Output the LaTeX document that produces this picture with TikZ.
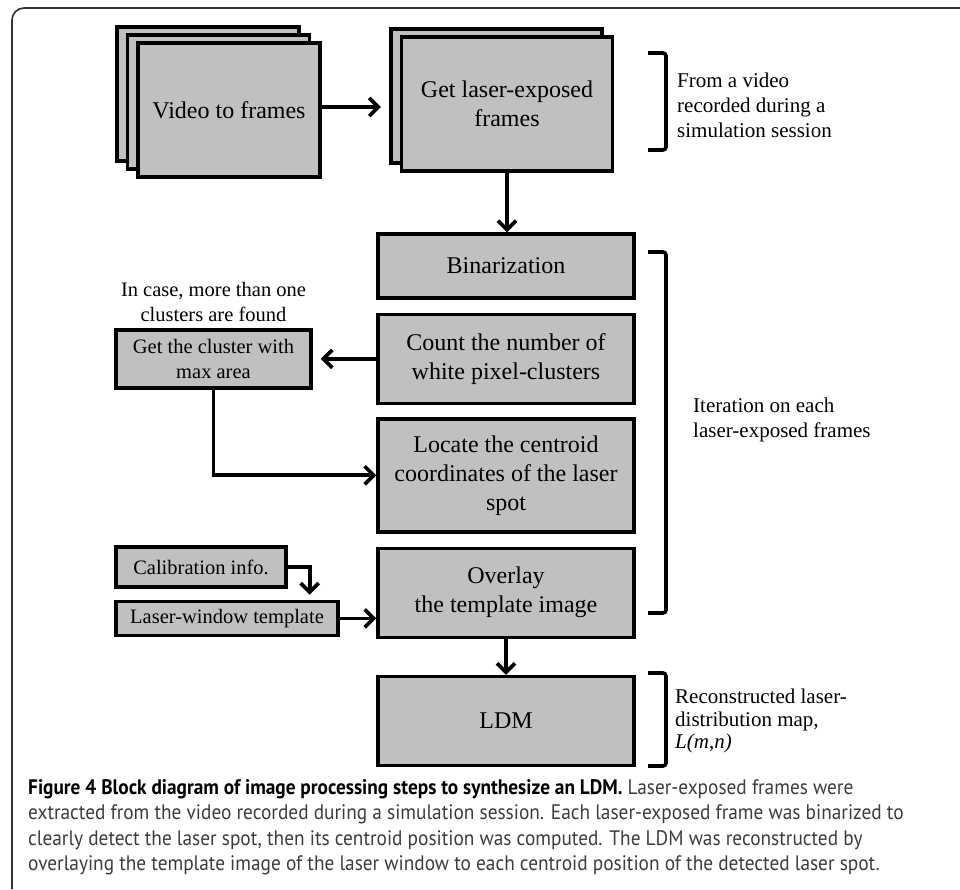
\documentclass[tikz,border=0pt]{standalone}
\usepackage{fontspec}
\setmainfont{Liberation Serif}
\newfontfamily\capfont[FakeStretch=0.92]{PT Sans}
\usepackage{xcolor}
\usepackage{tikz}
\usetikzlibrary{arrows.meta,positioning,shadows}
\definecolor{boxgray}{RGB}{192,192,192}
\definecolor{capgray}{RGB}{60,60,60}
\definecolor{framegray}{RGB}{50,50,50}
\newcommand{\bigfs}{\fontsize{24}{29}\selectfont}
\newcommand{\smallfs}{\fontsize{20.5}{25.5}\selectfont}
\newcommand{\notefs}{\fontsize{21}{25}\selectfont}

\begin{document}
\begin{tikzpicture}[
  x=1pt, y=-1pt,
  node distance=13pt and 8pt,
  box/.style={draw, line width=3.4pt, fill=boxgray, align=center, font=\bigfs, inner sep=2pt, minimum width=256pt},
  smallbox/.style={draw, line width=3.4pt, fill=boxgray, align=center, font=\smallfs, inner sep=2pt},
  backsheet/.style={copy shadow={shadow xshift=-10.5pt, shadow yshift=8pt, fill=boxgray, draw=black, line width=3.4pt}},
  twosheets/.style={copy shadow={shadow xshift=-21pt, shadow yshift=16pt, fill=boxgray, draw=black, line width=3.4pt}, backsheet},
  note/.style={align=left, font=\notefs, inner sep=0pt},
  arr/.style={line width=3.7pt, -{Straight Barb[length=9pt, width=18pt]}},
  brk/.style={line width=3.6pt, rounded corners=3pt}
]
\useasboundingbox (0,0) rectangle (960,889);
\draw[framegray, line width=1.6pt, rounded corners=12pt] (12,889) -- (12,8) -- (960,8);

\node[box, twosheets, minimum width=182pt, minimum height=134pt] (vid) at (229,110) {Video to frames};
\node[box, backsheet, minimum width=211pt, minimum height=134pt] (get) at (507,104) {Get laser-exposed\\frames};

\node[box, minimum height=64pt] (bin) at (506,266) {Binarization};
\node[box, below=of bin, minimum height=89pt] (count) {Count the number of\\white pixel-clusters};
\node[box, below=12pt of count, minimum height=113pt] (locate) {Locate the centroid\\coordinates of the laser\\spot};
\node[box, below=of locate, minimum height=89pt] (overlay) {Overlay\\the template image};
\node[box, below=36pt of overlay, minimum height=89pt] (ldm) {LDM};

\node[smallbox, minimum width=195pt, minimum height=58pt] (cluster) at (213.5,359) {Get the cluster with\\max area};
\node[note, font=\smallfs, align=center, above=6pt of cluster] (clnote) {In case, more than one\\clusters are found};
\node[smallbox, minimum width=170pt, minimum height=40pt] (calib) at (201,567) {Calibration info.};
\node[smallbox, minimum width=222pt, minimum height=34pt, below=11pt of calib.south west, anchor=north west] (lw) {Laser-window template};

\node[note, anchor=west] (srcnote) at (677,105) {From a video\\recorded during a\\simulation session};
\node[note, anchor=west] (iternote) at (693,420) {Iteration on each\\laser-exposed frames};
\node[note, anchor=west, font=\fontsize{21}{22.5}\selectfont] (ldmnote) at (675,721) {Reconstructed laser-\\distribution map,\\\textit{L(m,n)}};

\draw[brk] (648,53) -| (666,150) -- (648,150);
\draw[brk] (648,252) -| (666,613) -- (648,613);
\draw[brk] (648,673) -| (666,766) -- (648,766);

\draw[arr, shorten >=19pt] ([yshift=3pt]vid.east) -- ([yshift=3pt]vid.east -| get.west);
\draw[arr] (get.south) -- (get.south |- bin.north);
\draw[arr, shorten >=8pt] (count.west) -- (count.west -| cluster.east);
\draw[arr] (cluster.south) |- (locate.west);
\draw[arr, shorten >=5pt] (calib.east) -| ([xshift=-30pt]lw.north east);
\draw[arr] (lw.east) -- (lw.east -| overlay.west);
\draw[arr] (overlay) -- (ldm);

\node[anchor=north west, align=left, inner sep=0pt, text=capgray, font=\capfont\fontsize{21}{25.5}\selectfont] (caption) at (28,779) {\textcolor{black}{\bfseries Figure 4 Block diagram of image processing steps to synthesize an LDM.} Laser-exposed frames were\\
extracted from the video recorded during a simulation session. Each laser-exposed frame was binarized to\\
clearly detect the laser spot, then its centroid position was computed. The LDM was reconstructed by\\
overlaying the template image of the laser window to each centroid position of the detected laser spot.};
\end{tikzpicture}
\end{document}
